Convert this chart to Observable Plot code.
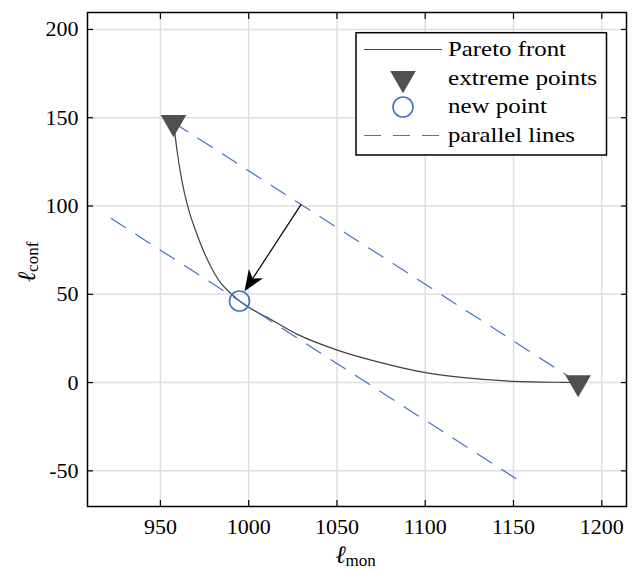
<!DOCTYPE html>
<html><head><meta charset="utf-8">
<script src="https://cdn.jsdelivr.net/npm/d3@7"></script>
<script src="https://cdn.jsdelivr.net/npm/@observablehq/plot@0.6"></script>
<style>
body{margin:0;background:#fff;}
svg{display:block}
#chart svg, #chart svg text, #chart svg tspan { font-family: "Liberation Serif", "Times New Roman", "DejaVu Serif", serif !important; }
</style>
</head><body><div id="chart"></div>
<script>
// Pareto front
const paretoX = [957.4, 958.2, 959.6, 961.4, 963.6, 966.4, 969.6, 974.2, 979.2, 984.5, 989.8, 994.8, 1000.2, 1010.6, 1027.6, 1050.2, 1074.8, 1100.2, 1121.9, 1150.2, 1178.4, 1186.6];
const paretoY = [147.3, 141.0, 130.0, 118.6, 107.4, 96.5, 87.0, 75.0, 64.5, 56.0, 50.6, 46.2, 42.5, 36.8, 27.3, 18.4, 11.3, 5.6, 2.8, 0.7, 0.1, 0.0];
// extreme points
const extremeX = [957.4, 1186.6];
const extremeY = [147.3, 0.0];
// new point
const newPointX = [994.8];
const newPointY = [46.2];
// parallel lines
const upperLineX = [957.4, 1186.6];
const upperLineY = [147.3, 0.0];
const lowerLineX = [922.2, 1151.4];
const lowerLineY = [92.9, -54.4];
// arrow (start, tip)
const arrowX = [1030.0, 997.9];
const arrowY = [100.6, 51.5];
// ticks
const xTicks = [950, 1000, 1050, 1100, 1150, 1200];
const yTicks = [-50, 0, 50, 100, 150, 200];
const legendLabels = ["Pareto front", "extreme points", "new point", "parallel lines"];

const blue = "#4472c4";
const dark = "#505050";
const serif = '"Liberation Serif", "Times New Roman", "DejaVu Serif", serif';

const pareto = paretoX.map((x, i) => ({x, y: paretoY[i]}));
const extremes = extremeX.map((x, i) => ({x, y: extremeY[i]}));
const newPts = newPointX.map((x, i) => ({x, y: newPointY[i]}));
const upper = upperLineX.map((x, i) => ({x, y: upperLineY[i]}));
const lower = lowerLineX.map((x, i) => ({x, y: lowerLineY[i]}));

function arrowMark(index, scales) {
  const x = scales.x, y = scales.y;
  const x1 = x(arrowX[0]), y1 = y(arrowY[0]), x2 = x(arrowX[1]), y2 = y(arrowY[1]);
  const dx = x2 - x1, dy = y2 - y1, len = Math.hypot(dx, dy);
  const ux = dx / len, uy = dy / len, px = -uy, py = ux;
  const L = 21, W = 8.5, N = 15;
  const g = d3.create("svg:g");
  g.append("line").attr("x1", x1).attr("y1", y1).attr("x2", x2 - ux * N).attr("y2", y2 - uy * N)
    .attr("stroke", "black").attr("stroke-width", 1.2);
  const pts = [[x2, y2], [x2 - ux * L + px * W, y2 - uy * L + py * W], [x2 - ux * N, y2 - uy * N], [x2 - ux * L - px * W, y2 - uy * L - py * W]];
  g.append("path").attr("d", "M" + pts.map(p => p.join(",")).join("L") + "Z").attr("fill", "black");
  return g.node();
}

function legendMark() {
  const g = d3.create("svg:g");
  const bx = 356, by = 32.7, bw = 250.5, bh = 122.3;
  g.append("rect").attr("x", bx).attr("y", by).attr("width", bw).attr("height", bh)
    .attr("fill", "white").attr("stroke", "black").attr("stroke-width", 1.5);
  const rows = [49.5, 78.5, 107, 135.5];
  const widths = [118, 149, 99, 127];
  g.append("line").attr("x1", 364).attr("x2", 442).attr("y1", rows[0]).attr("y2", rows[0])
    .attr("stroke", "#404040").attr("stroke-width", 1.2);
  const tri = d3.symbol(d3.symbolTriangle, 9.5 * 9.5 * Math.PI)();
  g.append("path").attr("d", tri).attr("transform", `translate(403,${rows[1]}) rotate(180)`).attr("fill", dark);
  g.append("circle").attr("cx", 403).attr("cy", rows[2]).attr("r", 10)
    .attr("fill", "none").attr("stroke", blue).attr("stroke-width", 1.6);
  g.append("line").attr("x1", 364).attr("x2", 442).attr("y1", rows[3]).attr("y2", rows[3])
    .attr("stroke", blue).attr("stroke-width", 1.2).attr("stroke-dasharray", "17,12");
  legendLabels.forEach((t, i) => {
    g.append("text").attr("x", 448).attr("y", rows[i] + 6).text(t)
      .attr("text-anchor", "start").attr("font-family", serif)
      .attr("font-size", 21).attr("textLength", widths[i]).attr("lengthAdjust", "spacingAndGlyphs")
      .attr("fill", "black");
  });
  return g.node();
}

function axisLabels() {
  const g = d3.create("svg:g").attr("fill", "black").attr("font-family", serif);
  const tx = g.append("text").attr("x", 355.5).attr("y", 563).attr("text-anchor", "middle");
  tx.append("tspan").attr("font-size", 25).attr("font-style", "italic").text("ℓ");
  tx.append("tspan").attr("font-size", 17).attr("dy", 3).text("mon");
  const ty = g.append("text").attr("transform", "translate(35,262) rotate(-90)").attr("text-anchor", "middle");
  ty.append("tspan").attr("font-size", 25).attr("font-style", "italic").text("ℓ");
  ty.append("tspan").attr("font-size", 17).attr("dy", 3).text("conf");
  return g.node();
}

const chart = Plot.plot({
  width: 635, height: 570,
  marginLeft: 87, marginRight: 9, marginTop: 12, marginBottom: 64,
  style: {fontFamily: serif, fontSize: "22px", color: "black", background: "white"},
  x: {domain: [908.7, 1214]},
  y: {domain: [-70.2, 209.6]},
  marks: [
    Plot.gridX(xTicks, {stroke: "#dedede", strokeOpacity: 1, strokeWidth: 1.5}),
    Plot.gridY(yTicks, {stroke: "#dedede", strokeOpacity: 1, strokeWidth: 1.5}),
    Plot.line(pareto, {x: "x", y: "y", curve: "monotone-x", stroke: "#404040", strokeWidth: 1.2}),
    Plot.line(upper, {x: "x", y: "y", stroke: blue, strokeWidth: 1.2, strokeDasharray: "17,12"}),
    Plot.line(lower, {x: "x", y: "y", stroke: blue, strokeWidth: 1.2, strokeDasharray: "17,12"}),
    Plot.dot(extremes, {x: "x", y: "y", symbol: "triangle", rotate: 180, r: 9.5, fill: dark, stroke: "none"}),
    Plot.dot(newPts, {x: "x", y: "y", r: 10, fill: "none", stroke: blue, strokeWidth: 1.6}),
    arrowMark,
    Plot.axisX(xTicks, {anchor: "bottom", tickSize: -6, tickPadding: 18, tickFormat: d => String(d), label: null, strokeWidth: 1.2, fontFamily: serif}),
    Plot.axisX(xTicks, {anchor: "top", tickSize: -6, tickFormat: () => "", label: null, strokeWidth: 1.2}),
    Plot.axisY(yTicks, {anchor: "left", tickSize: -6, tickPadding: 15, tickFormat: d => String(d), label: null, strokeWidth: 1.2, fontFamily: serif}),
    Plot.axisY(yTicks, {anchor: "right", tickSize: -6, tickFormat: () => "", label: null, strokeWidth: 1.2}),
    Plot.frame({stroke: "black", strokeWidth: 1.5}),
    legendMark,
    axisLabels
  ]
});
document.getElementById("chart").appendChild(chart);
</script>
</body></html>
